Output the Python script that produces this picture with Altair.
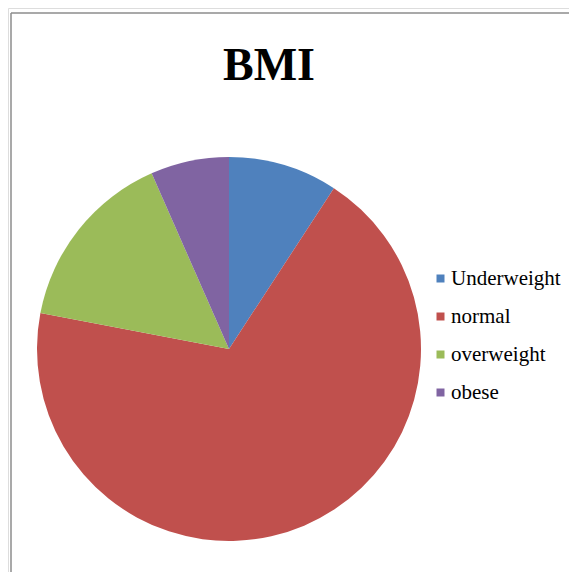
import altair as alt
import pandas as pd

categories = ["Underweight", "normal", "overweight", "obese"]
values = [9.2, 68.8, 15.4, 6.6]
colors = ["#4F81BD", "#C0504D", "#9BBB59", "#8064A2"]
title_text = "BMI"

df = pd.DataFrame({"category": categories, "value": values, "idx": list(range(len(categories)))})

pie = alt.Chart(df).mark_arc(radius=192, stroke=None).encode(
    theta=alt.Theta("value:Q", stack=True),
    order=alt.Order("idx:Q"),
    color=alt.Color(
        "category:N",
        sort=categories,
        scale=alt.Scale(domain=categories, range=colors),
        legend=alt.Legend(
            title=None,
            orient="none",
            legendX=422,
            legendY=260,
            symbolType="square",
            symbolSize=64,
            symbolStrokeWidth=0,
            labelFont="Liberation Serif",
            labelFontSize=21,
            labelColor="#000000",
            rowPadding=16,
            labelOffset=0,
        ),
    ),
    x=alt.value(221),
    y=alt.value(341),
)

title = alt.Chart(pd.DataFrame({"t": [title_text]})).mark_text(
    font="Liberation Serif", fontSize=46, fontWeight="bold", color="#000000",
    align="center", baseline="alphabetic"
).encode(text="t:N", x=alt.value(261), y=alt.value(72))

frame_top = alt.Chart(pd.DataFrame({"a": [0]})).mark_rule(color="#8c8c8c", strokeWidth=1.5).encode(
    x=alt.value(3), x2=alt.value(561), y=alt.value(5)
)
frame_left = alt.Chart(pd.DataFrame({"a": [0]})).mark_rule(color="#8c8c8c", strokeWidth=1.5).encode(
    x=alt.value(3), y=alt.value(5), y2=alt.value(564)
)

chart = alt.layer(frame_top, frame_left, pie, title).properties(
    width=561, height=564, autosize=alt.AutoSizeParams(type="none"), padding=0
).configure_view(stroke=None).configure(background="white")

chart.save("out.html", embed_options={"renderer": "svg", "actions": False})
